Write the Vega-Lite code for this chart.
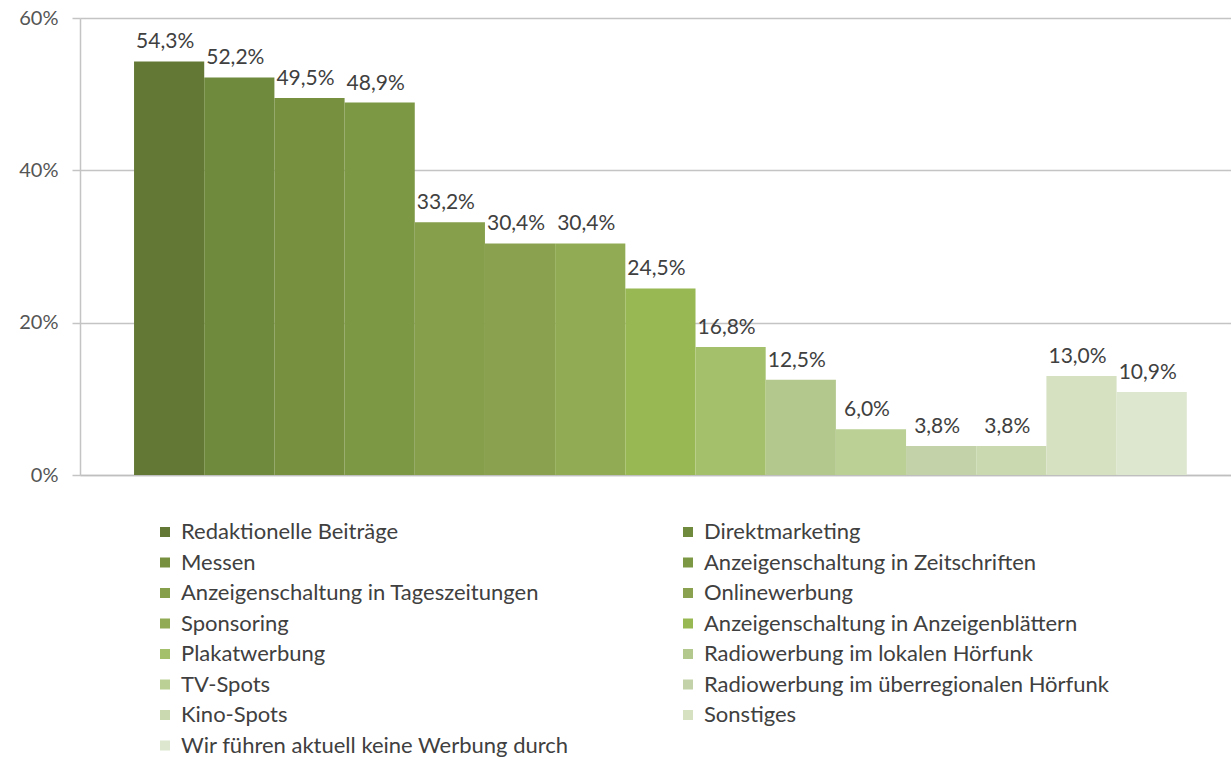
{
  "$schema": "https://vega.github.io/schema/vega-lite/v6.json",
  "width": 1151,
  "height": 457,
  "autosize": {"type": "none"},
  "padding": {"left": 80, "top": 18, "right": 0, "bottom": 290},
  "background": "white",
  "data": {
    "values": [
      {"kategorie": "Redaktionelle Beiträge", "wert": 54.3, "label": "54,3%"},
      {"kategorie": "Direktmarketing", "wert": 52.2, "label": "52,2%"},
      {"kategorie": "Messen", "wert": 49.5, "label": "49,5%"},
      {"kategorie": "Anzeigenschaltung in Zeitschriften", "wert": 48.9, "label": "48,9%"},
      {"kategorie": "Anzeigenschaltung in Tageszeitungen", "wert": 33.2, "label": "33,2%"},
      {"kategorie": "Onlinewerbung", "wert": 30.4, "label": "30,4%"},
      {"kategorie": "Sponsoring", "wert": 30.4, "label": "30,4%"},
      {"kategorie": "Anzeigenschaltung in Anzeigenblättern", "wert": 24.5, "label": "24,5%"},
      {"kategorie": "Plakatwerbung", "wert": 16.8, "label": "16,8%"},
      {"kategorie": "Radiowerbung im lokalen Hörfunk", "wert": 12.5, "label": "12,5%"},
      {"kategorie": "TV-Spots", "wert": 6.0, "label": "6,0%"},
      {"kategorie": "Radiowerbung im überregionalen Hörfunk", "wert": 3.8, "label": "3,8%"},
      {"kategorie": "Kino-Spots", "wert": 3.8, "label": "3,8%"},
      {"kategorie": "Sonstiges", "wert": 13.0, "label": "13,0%"},
      {"kategorie": "Wir führen aktuell keine Werbung durch", "wert": 10.9, "label": "10,9%"}
    ]
  },
  "encoding": {
    "x": {
      "field": "kategorie",
      "type": "nominal",
      "sort": null,
      "scale": {"paddingInner": 0, "paddingOuter": 0.7, "align": 0.55},
      "axis": {"labels": false, "ticks": false, "title": null, "domain": true, "domainColor": "#bfbfbf", "domainWidth": 1.5}
    },
    "y": {
      "field": "wert",
      "type": "quantitative",
      "scale": {"domain": [0, 60], "nice": false},
      "axis": {
        "values": [0, 20, 40, 60],
        "labelExpr": "datum.value + '%'",
        "title": null,
        "grid": true,
        "gridColor": "#c4c4c4",
        "gridWidth": 1.5,
        "domain": true,
        "domainColor": "#c4c4c4",
        "domainWidth": 1.5,
        "ticks": true,
        "tickSize": 8,
        "tickColor": "#c4c4c4",
        "tickWidth": 1.5,
        "labelPadding": 14,
        "labelFont": "Lato",
        "labelFontSize": 20,
        "labelColor": "#555555"
      }
    }
  },
  "layer": [
    {
      "mark": {"type": "bar", "strokeWidth": 0},
      "encoding": {
        "color": {
          "field": "kategorie",
          "type": "nominal",
          "scale": {
            "domain": ["Redaktionelle Beiträge", "Messen", "Anzeigenschaltung in Tageszeitungen", "Sponsoring", "Plakatwerbung", "TV-Spots", "Kino-Spots", "Wir führen aktuell keine Werbung durch", "Direktmarketing", "Anzeigenschaltung in Zeitschriften", "Onlinewerbung", "Anzeigenschaltung in Anzeigenblättern", "Radiowerbung im lokalen Hörfunk", "Radiowerbung im überregionalen Hörfunk", "Sonstiges"],
            "range": ["#627834", "#77903f", "#869f4b", "#90ab53", "#a4c06a", "#bad094", "#cad9b0", "#dde6cf", "#6f8a3c", "#7d9845", "#8aa250", "#97b853", "#b2c88c", "#c3d2a8", "#d6e1c2"]
          },
          "legend": {
            "title": null,
            "orient": "none",
            "legendX": 74,
            "legendY": 503,
            "columns": 2,
            "columnPadding": 108,
            "rowPadding": 8.5,
            "symbolType": "square",
            "symbolSize": 100,
            "symbolStrokeWidth": 0,
            "labelFont": "Lato",
            "labelFontSize": 22,
            "labelColor": "#404040",
            "labelOffset": 5,
            "labelLimit": 500,
            "padding": 0
          }
        }
      }
    },
    {
      "mark": {"type": "text", "baseline": "bottom", "dy": -9, "dx": -4, "font": "Lato", "fontSize": 21, "color": "#404040"},
      "encoding": {
        "text": {"field": "label"}
      }
    }
  ],
  "config": {"view": {"stroke": null}}
}
